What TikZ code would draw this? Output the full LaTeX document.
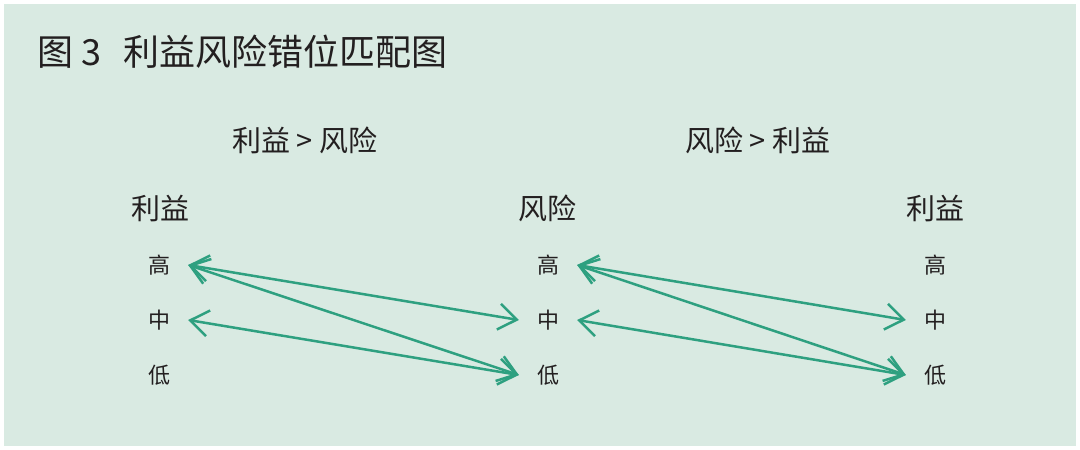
\documentclass[tikz,border=0pt]{standalone}
\usepackage{fontspec}
\setmainfont{Noto Sans CJK SC}
\usetikzlibrary{arrows.meta}
\definecolor{panel}{RGB}{217,234,226}
\definecolor{linkgreen}{RGB}{46,160,128}
\definecolor{ink}{RGB}{35,31,32}

\begin{document}
\begin{tikzpicture}[x=1pt, y=-1pt,
    level/.style={text=ink, font=\fontsize{22}{22}\selectfont, minimum width=58pt, inner sep=0pt},
    head/.style={text=ink, font=\fontsize{29}{29}\selectfont, inner sep=0pt},
    link/.style={linkgreen, line width=2.5pt,
        {Straight Barb[length=18pt,width=26pt]}-{Straight Barb[length=18pt,width=26pt]}}]
    % Background
    \fill[white] (0,0) rectangle (1080,450);
    \fill[panel] (4,4) rectangle (1076,446);

    % Title
    \node[anchor=west, text=ink, inner sep=0pt, font=\fontsize{36}{36}\selectfont] (title) at (37,52) {图 3\hspace{22pt}利益风险错位匹配图};

    % Headings
    \node[head] (headA) at (305,140) {利益 > 风险};
    \node[head] (headB) at (758,140) {风险 > 利益};

    % Columns
    \node[head] (colL) at (160,208) {利益};
    \node[head] (colM) at (547,208) {风险};
    \node[head] (colR) at (935,208) {利益};

    % Levels
    \node[level] (hiL) at (159,265) {高};
    \node[level] (midL) at (159,320) {中};
    \node[level] (loL) at (159,375) {低};
    \node[level] (hiM) at (548,265) {高};
    \node[level] (midM) at (548,320) {中};
    \node[level] (loM) at (548,375) {低};
    \node[level] (hiR) at (935,265) {高};
    \node[level] (midR) at (935,320) {中};
    \node[level] (loR) at (935,375) {低};

    % Mismatch links
    \draw[link] (hiL.east) -- (midM.west);
    \draw[link] (hiL.east) -- (loM.west);
    \draw[link] (midL.east) -- (loM.west);
    \draw[link] (hiM.east) -- (midR.west);
    \draw[link] (hiM.east) -- (loR.west);
    \draw[link] (midM.east) -- (loR.west);
\end{tikzpicture}
\end{document}
